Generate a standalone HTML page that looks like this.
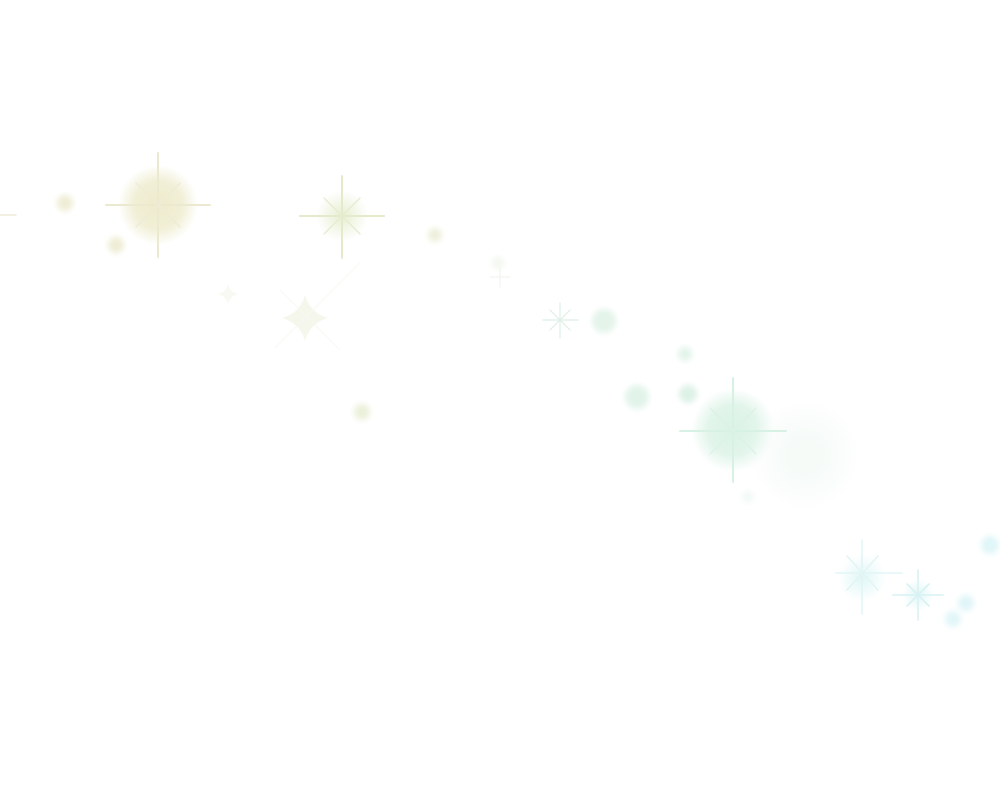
<!DOCTYPE html>
<html><head><meta charset="utf-8"><style>html,body{margin:0;padding:0;background:#fff;width:1000px;height:796px;overflow:hidden}</style></head>
<body>
<svg width="1000" height="796" viewBox="0 0 1000 796" xmlns="http://www.w3.org/2000/svg">
<defs>
<filter id="b" x="-100%" y="-100%" width="300%" height="300%"><feGaussianBlur stdDeviation="3"/></filter>
<filter id="b2" x="-100%" y="-100%" width="300%" height="300%"><feGaussianBlur stdDeviation="14"/></filter>
<radialGradient id="gy"><stop offset="0" stop-color="#eeebcb"/><stop offset="0.6" stop-color="#f1efd6"/><stop offset="1" stop-color="#f1efd6" stop-opacity="0"/></radialGradient>
<radialGradient id="gg"><stop offset="0" stop-color="#e6eed0"/><stop offset="1" stop-color="#e6eed0" stop-opacity="0"/></radialGradient>
<radialGradient id="gm"><stop offset="0" stop-color="#daf2e5"/><stop offset="0.6" stop-color="#e2f5eb"/><stop offset="1" stop-color="#e2f5eb" stop-opacity="0"/></radialGradient>
<radialGradient id="gc"><stop offset="0" stop-color="#e0f6f6"/><stop offset="1" stop-color="#e0f6f6" stop-opacity="0"/></radialGradient>
</defs>
<circle cx="158" cy="205" r="40" fill="url(#gy)"/>
<circle cx="342" cy="216" r="26" fill="url(#gg)"/>
<circle cx="733" cy="430" r="42" fill="url(#gm)"/>
<circle cx="862" cy="578" r="24" fill="url(#gc)"/>
<circle cx="918" cy="595" r="16" fill="url(#gc)"/>
<circle cx="805" cy="455" r="40" fill="#f6fbf8" filter="url(#b2)"/>
<g stroke-linecap="round">
<g stroke="#ebe9cf" stroke-width="2"><line x1="106" y1="205" x2="210" y2="205"/><line x1="158" y1="153" x2="158" y2="257"/></g>
<g stroke="#eeecd6" stroke-width="1.5"><line x1="136" y1="183" x2="180" y2="227"/><line x1="180" y1="183" x2="136" y2="227"/></g>
<g stroke="#e4eacb" stroke-width="2"><line x1="300" y1="216" x2="384" y2="216"/><line x1="342" y1="176" x2="342" y2="258"/></g>
<g stroke="#e6ecd0" stroke-width="1.3"><line x1="324" y1="198" x2="360" y2="234"/><line x1="360" y1="198" x2="324" y2="234"/></g>
<g stroke="#dfefe5" stroke-width="1.2"><line x1="543" y1="320" x2="578" y2="320"/><line x1="560" y1="303" x2="560" y2="338"/><line x1="550" y1="310" x2="570" y2="330"/><line x1="570" y1="310" x2="550" y2="330"/></g>
<g stroke="#d8f1e5" stroke-width="2"><line x1="680" y1="431" x2="786" y2="431"/><line x1="733" y1="378" x2="733" y2="482"/></g>
<g stroke="#dcf2e7" stroke-width="1.3"><line x1="710" y1="408" x2="756" y2="454"/><line x1="756" y1="408" x2="710" y2="454"/></g>
<g stroke="#e2f5f5" stroke-width="1.6"><line x1="836" y1="573" x2="902" y2="573"/><line x1="862" y1="540" x2="862" y2="614"/><line x1="847" y1="556" x2="878" y2="590"/><line x1="878" y1="556" x2="847" y2="590"/></g>
<g stroke="#d8f2f4" stroke-width="1.6"><line x1="893" y1="595" x2="943" y2="595"/><line x1="918" y1="570" x2="918" y2="620"/><line x1="907" y1="584" x2="929" y2="606"/><line x1="929" y1="584" x2="907" y2="606"/></g>
<g stroke="#f2f3ea" stroke-width="1"><line x1="490" y1="277" x2="510" y2="277"/><line x1="500" y1="267" x2="500" y2="287"/></g>
<g stroke="#eeecd6" stroke-width="1.5"><line x1="0" y1="215" x2="16" y2="215"/></g>
</g>
<path d="M305 295 Q310 313 328 318 Q310 323 305 341 Q300 323 282 318 Q300 313 305 295Z" fill="#f6f7ec"/>
<g stroke="#f8f9f2" stroke-width="1"><line x1="275" y1="348" x2="360" y2="263"/><line x1="280" y1="290" x2="340" y2="350"/></g>
<path d="M228 284 Q230 292 238 294 Q230 296 228 304 Q226 296 218 294 Q226 292 228 284Z" fill="#f8f9f2"/>
<g filter="url(#b)">
<circle cx="65" cy="203" r="8" fill="#efedd4"/>
<circle cx="116" cy="245" r="8" fill="#efedd4"/>
<circle cx="435" cy="235" r="7" fill="#eef0dc"/>
<circle cx="362" cy="412" r="8" fill="#eaf0da"/>
<circle cx="498" cy="263" r="6" fill="#f2f7ee"/>
<circle cx="604" cy="321" r="12" fill="#e4f4ea"/>
<circle cx="685" cy="354" r="7" fill="#e2f4ea"/>
<circle cx="637" cy="397" r="12" fill="#e2f4ea"/>
<circle cx="688" cy="394" r="9" fill="#ddf2e7"/>
<circle cx="748" cy="497" r="6" fill="#f2f9f6"/>
<circle cx="990" cy="545" r="9" fill="#e0f6f8"/>
<circle cx="966" cy="603" r="8" fill="#e0f5f8"/>
<circle cx="953" cy="619" r="8" fill="#e2f6f8"/>
</g>
</svg>
</body></html>
